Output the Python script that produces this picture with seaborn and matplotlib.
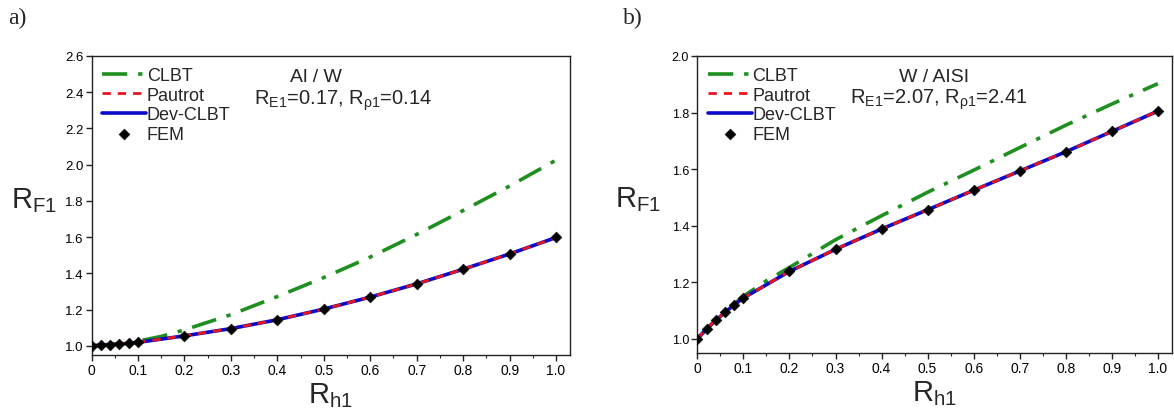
import numpy as np
import pandas as pd
import seaborn as sns
import matplotlib.pyplot as plt
from matplotlib.ticker import MultipleLocator

# panel a) Al / W
fem_x = [0, 0.02, 0.04, 0.06, 0.08, 0.1, 0.2, 0.3, 0.4, 0.5, 0.6, 0.7, 0.8, 0.9, 1.0]
fem_a = [1.0, 1.003, 1.006, 1.010, 1.014, 1.019, 1.055, 1.095, 1.144, 1.203, 1.269, 1.342, 1.423, 1.507, 1.598]
clbt_x = [0, 0.05, 0.1, 0.15, 0.2, 0.3, 0.4, 0.5, 0.6, 0.7, 0.8, 0.9, 1.0]
clbt_a = [1.0, 1.01, 1.026, 1.052, 1.088, 1.172, 1.272, 1.377, 1.490, 1.615, 1.747, 1.882, 2.025]

# panel b) W / AISI
fem_b = [1.0, 1.035, 1.065, 1.093, 1.120, 1.144, 1.238, 1.316, 1.388, 1.456, 1.525, 1.593, 1.661, 1.733, 1.805]
clbt_b = [1.0, 1.082, 1.150, 1.205, 1.252, 1.350, 1.435, 1.518, 1.596, 1.676, 1.755, 1.830, 1.902]

panels = [
    dict(fem=fem_a, clbt=clbt_a, ylim=(0.95, 2.6), yticks=np.arange(1.0, 2.61, 0.2),
         title="Al / W", params=r"$\mathregular{R_{E1}}$=0.17, $\mathregular{R_{ρ1}}$=0.14",
         tag="a)", rect=[0.078, 0.132, 0.4075, 0.729], tfs=9.5, tx=0.47, px=0.525, lx=-0.12),
    dict(fem=fem_b, clbt=clbt_b, ylim=(0.95, 2.0), yticks=np.arange(1.0, 2.01, 0.2),
         title="W / AISI", params=r"$\mathregular{R_{E1}}$=2.07, $\mathregular{R_{ρ1}}$=2.41",
         tag="b)", rect=[0.594, 0.137, 0.404, 0.724], tfs=9, tx=0.50, px=0.51, lx=-0.125),
]

sns.set_theme(style="ticks")
plt.rcParams['font.family'] = ['Liberation Sans', 'DejaVu Sans']
plt.rcParams['mathtext.fontset'] = 'custom'
plt.rcParams['mathtext.rm'] = 'Liberation Sans'
plt.rcParams['mathtext.it'] = 'Liberation Sans'

green, red, blue = "#1f8f1f", "#e8161c", "#0a0ac8"

fig = plt.figure(figsize=(11.74, 4.10), dpi=100)

for p in panels:
    ax = fig.add_axes(p["rect"])
    sns.lineplot(x=clbt_x, y=p["clbt"], ax=ax, color=green, lw=2.6,
                 linestyle=(0, (7, 3, 1.2, 3)), label="CLBT")
    sns.lineplot(x=fem_x, y=p["fem"], ax=ax, color=blue, lw=2.6, label="Dev-CLBT")
    sns.lineplot(x=fem_x, y=p["fem"], ax=ax, color=red, lw=2.0,
                 linestyle=(0, (3, 2.5)), label="Pautrot")
    sns.scatterplot(x=fem_x, y=p["fem"], ax=ax, color="black", marker="D", s=30,
                    edgecolor="black", zorder=5, label="FEM")

    h, l = ax.get_legend_handles_labels()
    order = [l.index(k) for k in ["CLBT", "Pautrot", "Dev-CLBT", "FEM"]]
    ax.legend([h[i] for i in order], [l[i] for i in order], loc="upper left",
              frameon=False, fontsize=13, handlelength=2.4, handletextpad=0.05,
              labelspacing=0.15, borderaxespad=0.2, bbox_to_anchor=(0.0, 1.0))

    ax.set_xlim(0, 1.03)
    ax.set_ylim(*p["ylim"])
    ax.set_xticks(np.arange(0, 1.01, 0.1))
    ax.set_xticklabels(["0"] + [f"{v:.1f}" for v in np.arange(0.1, 1.01, 0.1)])
    ax.set_yticks(p["yticks"])
    ax.xaxis.set_minor_locator(MultipleLocator(0.05))
    ax.tick_params(axis="both", which="major", direction="out", length=4, width=1,
                   labelsize=p["tfs"], pad=2, colors="#222222", labelcolor="black")
    ax.tick_params(axis="x", which="major", labelsize=10)
    ax.tick_params(axis="x", which="minor", direction="out", length=2.5, width=0.8)
    for s in ax.spines.values():
        s.set_linewidth(1.0)
        s.set_color("#222222")

    ax.set_xlabel(r"$\mathregular{R_{h1}}$", fontsize=21, labelpad=2)
    ax.set_ylabel(r"$\mathregular{R_{F1}}$", fontsize=21, rotation=0, va="center")
    ax.yaxis.set_label_coords(p["lx"], 0.52)

    ax.text(p["tx"], 0.93, p["title"], transform=ax.transAxes, ha="center", va="center", fontsize=14)
    ax.text(p["px"], 0.855, p["params"], transform=ax.transAxes, ha="center", va="center", fontsize=14.5)

    fig.text(p["rect"][0] - (0.071 if p["tag"] == "a)" else 0.063), 0.955, p["tag"],
             fontsize=17, family="Liberation Serif", va="center")

fig.savefig("out.png", dpi=100)
